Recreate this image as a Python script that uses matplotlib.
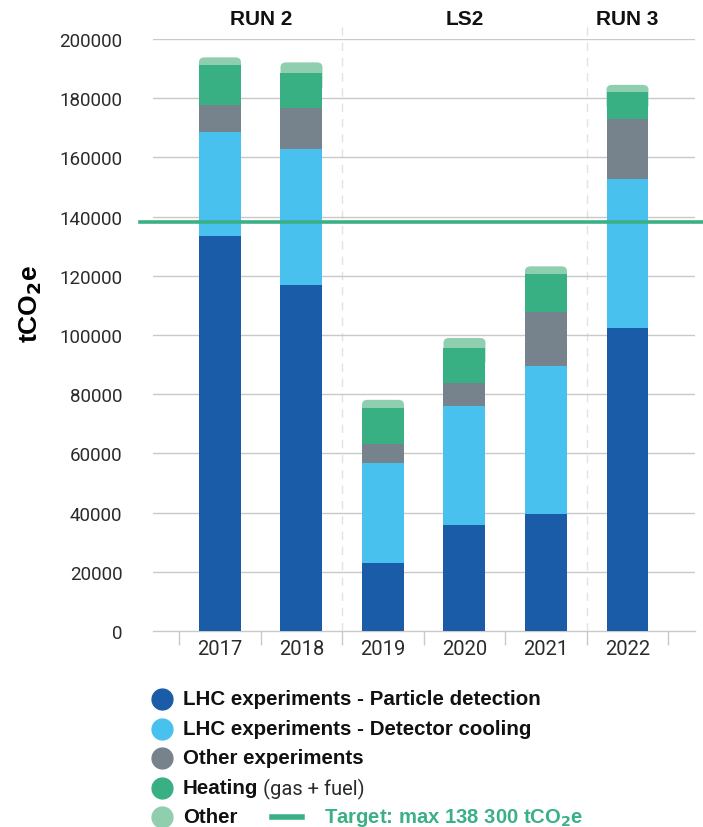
"""Stacked bar chart of CERN experiment emissions per year."""

import matplotlib
matplotlib.use('Agg')
import matplotlib.pyplot as plt
import numpy as np
from matplotlib.lines import Line2D
from matplotlib.patches import FancyBboxPatch

years = ['2017', '2018', '2019', '2020', '2021', '2022']

# Segment values (tCO2e).
particle_detection = [133300, 116900, 23000, 35800, 39500, 102300]
detector_cooling = [35200, 45900, 33800, 40200, 50100, 50400]
other_experiments = [9200, 14000, 6400, 7700, 18300, 20300]
heating = [13600, 11600, 12100, 11900, 12700, 9000]
other = [2500, 3700, 2800, 3400, 2600, 2500]

series_labels = ['LHC experiments - Particle detection',
                 'LHC experiments - Detector cooling',
                 'Other experiments',
                 'Heating',
                 'Other']
colors = ['#1a5ca8', '#48c1ee', '#77838c', '#38b083', '#8fceae']

periods = ['RUN 2', 'LS2', 'RUN 3']
period_centers = [0.5, 3.0, 5.0]
period_breaks = [1.5, 4.5]

target = 138300
y_ticks = list(range(0, 200001, 20000))

BOLD = ['Liberation Sans', 'DejaVu Sans']
LIGHT = ['Roboto', 'DejaVu Sans']

fig = plt.figure(figsize=(7.03, 8.28), dpi=100)
ax = fig.add_axes([0.2176, 0.2367, 0.7710, 0.7150])

x = np.arange(len(years))
width = 0.515
stack = [particle_detection, detector_cooling, other_experiments, heating, other]
bottom = np.zeros(len(years))

for i, (values, color) in enumerate(zip(stack, colors)):
    values = np.array(values, dtype=float)
    if i == len(stack) - 1:
        # Rounded top cap, tucked under the segment below.
        for xi, b, v in zip(x, bottom, values):
            cap = FancyBboxPatch((xi - width / 2, b - 6000), width, v + 6000,
                                 boxstyle='round,pad=0,rounding_size=0.07',
                                 mutation_aspect=23000,
                                 facecolor=color, edgecolor='none', zorder=2)
            ax.add_patch(cap)
    else:
        ax.bar(x, values, width, bottom=bottom, color=color, zorder=3,
               linewidth=0)
    bottom += values

# Gridlines.
for yt in y_ticks[1:]:
    ax.axhline(yt, color='#c9c9c9', linewidth=1, zorder=1)

# Period separators and headers.
for xb in period_breaks:
    ax.plot([xb, xb], [0, 205000], color='#e2e2e2', linewidth=1,
            linestyle=(0, (6, 5)), zorder=0, clip_on=False)
for label, xc in zip(periods, period_centers):
    ax.text(xc, 207000, label, ha='center', va='center', fontsize=15,
            fontweight='bold', family=BOLD, color='#111111')

# Target line.
ax.axhline(target, xmin=-0.024, xmax=1.02, color='#3bb085', linewidth=2.6,
           zorder=5, clip_on=False)

ax.set_xlim(-0.822, 5.828)
ax.set_ylim(0, 200000)
ax.set_yticks(y_ticks)
ax.set_yticklabels([str(v) for v in y_ticks], family=LIGHT, fontsize=13.5,
                   color='#2b2b2b')
ax.set_xticks(x)
ax.set_xticklabels(years, family=LIGHT, fontsize=14.5, color='#2b2b2b')
ax.set_xticks(np.arange(-0.5, len(years)), minor=True)
ax.tick_params(axis='y', length=0, pad=22)
ax.tick_params(axis='x', which='major', length=0, pad=6)
ax.tick_params(axis='x', which='minor', length=10, width=1, color='#c9c9c9',
               direction='out')

for side in ['top', 'right', 'left']:
    ax.spines[side].set_visible(False)
ax.spines['bottom'].set_color('#c9c9c9')
ax.spines['bottom'].set_linewidth(1)

fig.text(0.044, 0.633, r'tCO$_\mathbf{2}$e', rotation=90, ha='center',
         va='center', fontsize=19, fontweight='bold', family=BOLD)

# Legend, drawn by hand.
row_y = [700, 730, 759, 789, 818]
renderer = fig.canvas.get_renderer()
for yy, label, color in zip(row_y, series_labels, colors):
    fy = 1 - yy / 828
    fig.add_artist(Line2D([162 / 703], [fy], marker='o', markersize=15,
                          color=color, linestyle='none'))
    t = fig.text(183 / 703, fy, label, ha='left', va='center', fontsize=14.8,
                 fontweight='bold', family=BOLD, color='#111111')
    if label == 'Heating':
        bb = t.get_window_extent(renderer)
        fig.text(bb.x1 / 703 + 5 / 703, fy, '(gas + fuel)', ha='left',
                 va='center', fontsize=14.5, family=LIGHT, color='#2b2b2b')

fy = 1 - row_y[4] / 828
fig.add_artist(Line2D([272 / 703, 302 / 703], [fy, fy], color='#3bb085',
                      linewidth=4))
fig.text(324 / 703, fy, r'Target: max 138 300 tCO$_\mathbf{2}$e', ha='left',
         va='center', fontsize=14.6, fontweight='bold', family=BOLD,
         color='#3bb085')

fig.savefig('out.png', dpi=100)
